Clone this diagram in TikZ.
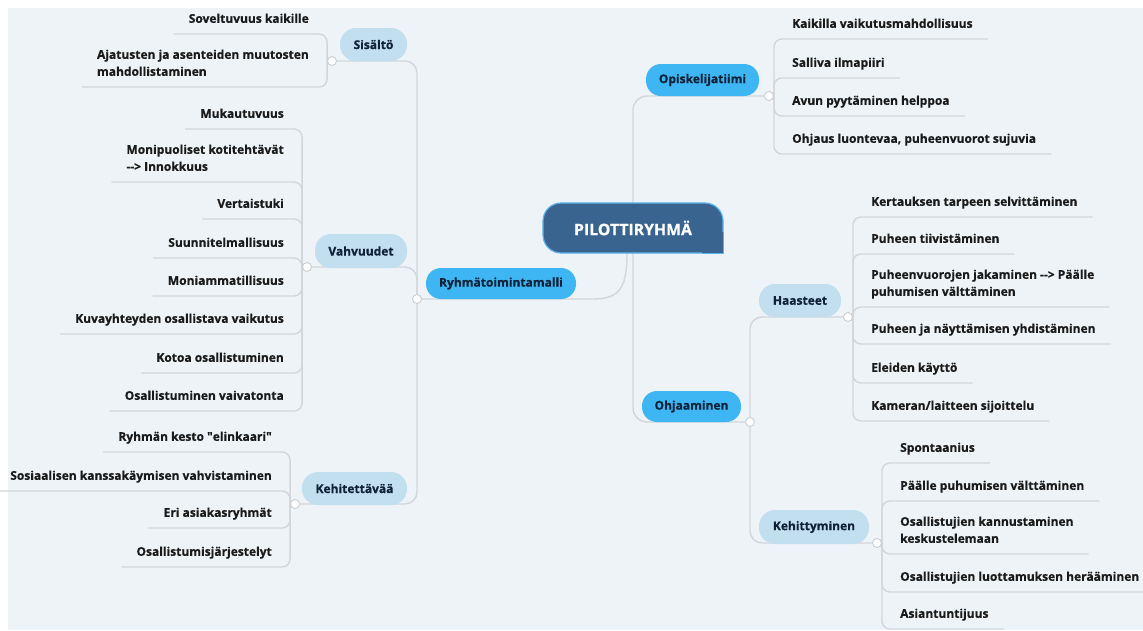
\documentclass[tikz,border=0pt]{standalone}
\usepackage{fontspec}
\setmainfont{Open Sans}[BoldFeatures={FakeBold=0.6}]
\usetikzlibrary{calc}
\definecolor{bgc}{HTML}{EEF3F7}
\definecolor{connc}{HTML}{D2D6DA}
\definecolor{cfill}{HTML}{39648F}
\definecolor{cborder}{HTML}{5AB4EC}
\definecolor{mainfill}{HTML}{3DB6F3}
\definecolor{subfill}{HTML}{C2DFF0}
\definecolor{navy}{HTML}{0F2238}
\definecolor{leaftext}{HTML}{1A1A1A}
\definecolor{dotc}{HTML}{C9CED3}
\newcommand{\leaffont}{\fontsize{12}{17}\selectfont\bfseries}
\pgfdeclarelayer{bgzero}
\pgfdeclarelayer{lines}
\pgfsetlayers{bgzero,lines,main}
\tikzset{
  connector/.style={draw=connc, line width=1.4pt, rounded corners=8pt},
  trunk/.style={draw=connc, line width=1.4pt, rounded corners=14pt},
  leafR/.style={anchor=south west, inner xsep=15pt, inner ysep=0pt, text depth=11pt, align=left, font=\leaffont, text=leaftext},
  leafL/.style={leafR, anchor=south east},
  mainbox/.style={fill=mainfill, rounded corners=15pt, font=\fontsize{12}{14}\selectfont\bfseries, text=navy, inner sep=0pt},
  subbox/.style={fill=subfill, rounded corners=16pt, font=\fontsize{12}{14}\selectfont\bfseries, text=navy, inner sep=0pt},
  centerbox/.style={fill=cfill, draw=cborder, line width=1.2pt, rounded corners=18pt, font=\fontsize{15.8}{17}\selectfont\bfseries, text=white, inner sep=0pt, minimum width=180pt, minimum height=50pt},
  knot/.style={circle, fill=white, draw=dotc, line width=0.9pt, minimum size=9pt, inner sep=0pt}
}
\begin{document}
\begin{tikzpicture}[x=1pt, y=-1pt]
\useasboundingbox (0,0) rectangle (1143,630);
\begin{pgfonlayer}{bgzero}
\fill[white] (0,0) rectangle (1143,630);
\fill[bgc] (8,8) rectangle (1143,630);
\end{pgfonlayer}

% center
\node[centerbox] (C) at (633,228) {PILOTTIRYHMÄ};
\fill[cfill] (C.south east) rectangle ([xshift=-22pt,yshift=22pt]C.south east);
\draw[cborder, line width=1.2pt] ([yshift=22pt]C.south east) -- (C.south east) -- ([xshift=-22pt]C.south east);

% main branches
\node[mainbox, minimum width=150pt, minimum height=31pt] (R) at (501,283.5) {Ryhmätoimintamalli};
\node[mainbox, minimum width=113pt, minimum height=32pt] (O) at (702.5,80) {Opiskelijatiimi};
\node[mainbox, minimum width=99pt, minimum height=31pt] (J) at (691.5,406.5) {Ohjaaminen};

% sub branches
\node[subbox, minimum width=67pt, minimum height=33pt] (S) at (373.5,44.5) {Sisältö};
\node[subbox, minimum width=92pt, minimum height=34pt] (V) at (361,251) {Vahvuudet};
\node[subbox, minimum width=105pt, minimum height=33pt] (K) at (354.5,488.5) {Kehitettävää};
\node[subbox, minimum width=82pt, minimum height=33pt] (H) at (800,300.5) {Haasteet};
\node[subbox, minimum width=110pt, minimum height=34pt] (T) at (814,527) {Kehittyminen};

% knots
\node[knot] (rdot) at (417,299) {};
\node[knot] (sdot) at (332,61) {};
\node[knot] (vdot) at (307,267) {};
\node[knot] (kdot) at (295,504) {};
\node[knot] (odot) at (769,96) {};
\node[knot] (jdot) at (750,422) {};
\node[knot] (hdot) at (848,317) {};
\node[knot] (tdot) at (877,543) {};

% leaves right: Opiskelijatiimi
\node[leafR] (o1) at (777,39) {Kaikilla vaikutusmahdollisuus};
\node[leafR] (o2) at (777,78) {Salliva ilmapiiri};
\node[leafR] (o3) at (777,116) {Avun pyytäminen helppoa};
\node[leafR] (o4) at (777,154) {Ohjaus luontevaa, puheenvuorot sujuvia};
% Haasteet
\node[leafR] (h1) at (856,217) {Kertauksen tarpeen selvittäminen};
\node[leafR] (h2) at (856,254) {Puheen tiivistäminen};
\node[leafR] (h3) at (856,307) {Puheenvuorojen jakaminen -{}-{}> Päälle\\puhumisen välttäminen};
\node[leafR] (h4) at (856,344) {Puheen ja näyttämisen yhdistäminen};
\node[leafR] (h5) at (856,383) {Eleiden käyttö};
\node[leafR] (h6) at (856,421) {Kameran/laitteen sijoittelu};
% Kehittyminen
\node[leafR] (t1) at (885,463) {Spontaanius};
\node[leafR] (t2) at (885,501) {Päälle puhumisen välttäminen};
\node[leafR] (t3) at (885,554) {Osallistujien kannustaminen\\keskustelemaan};
\node[leafR] (t4) at (885,592) {Osallistujien luottamuksen herääminen};
\node[leafR] (t5) at (885,629) {Asiantuntijuus};
% leaves left: Sisältö
\node[leafL] (s1) at (324,34) {Soveltuvuus kaikille};
\node[leafL] (s2) at (324,87) {Ajatusten ja asenteiden muutosten\\mahdollistaminen};
% Vahvuudet
\node[leafL] (v1) at (299,129) {Mukautuvuus};
\node[leafL] (v2) at (299,182) {Monipuoliset kotitehtävät\\-{}-{}> Innokkuus};
\node[leafL] (v3) at (299,219) {Vertaistuki};
\node[leafL] (v4) at (299,258) {Suunnitelmallisuus};
\node[leafL] (v5) at (299,296) {Moniammatillisuus};
\node[leafL] (v6) at (299,334) {Kuvayhteyden osallistava vaikutus};
\node[leafL] (v7) at (299,373) {Kotoa osallistuminen};
\node[leafL] (v8) at (299,411) {Osallistuminen vaivatonta};
% Kehitettävää
\node[leafL] (k1) at (287,452) {Ryhmän kesto \textquotedbl elinkaari\textquotedbl};
\node[leafL] (k2) at (287,491) {Sosiaalisen kanssakäymisen vahvistaminen};
\node[leafL] (k3) at (287,528) {Eri asiakasryhmät};
\node[leafL] (k4) at (287,567) {Osallistumisjärjestelyt};

\begin{pgfonlayer}{lines}
% center connections
\draw[trunk] (C.center) |- (odot.center);
\draw[trunk] (C.center) |- (jdot.center);
\draw[draw=connc, line width=1.4pt] ([xshift=-6pt]C.south) .. controls +(0,38) and +(25,0) .. ($(rdot)+(175,0)$) -- (rdot.center);
% left trunk
\draw[trunk, rounded corners=12pt] (rdot.center) |- (sdot.center);
\draw[trunk, rounded corners=12pt] (rdot.center) |- (vdot.center);
\draw[trunk, rounded corners=12pt] (rdot.center) |- (kdot.center);
% right sub trunk
\draw[trunk, rounded corners=12pt] (jdot.center) |- (hdot.center);
\draw[trunk, rounded corners=12pt] (jdot.center) |- (tdot.center);
% leaves
\foreach \l in {o1,o2,o3,o4} \draw[connector] (odot.east) |- (\l.south east);
\foreach \l in {h1,h2,h3,h4,h5,h6} \draw[connector] (hdot.east) |- (\l.south east);
\foreach \l in {t1,t2,t3,t4,t5} \draw[connector] (tdot.east) |- (\l.south east);
\foreach \l in {s1,s2} \draw[connector] (sdot.west) |- (\l.south west);
\foreach \l in {v1,v2,v3,v4,v5,v6,v7,v8} \draw[connector] (vdot.west) |- (\l.south west);
\foreach \l in {k1,k2,k3,k4} \draw[connector] (kdot.west) |- (\l.south west);
\end{pgfonlayer}
\end{tikzpicture}
\end{document}
